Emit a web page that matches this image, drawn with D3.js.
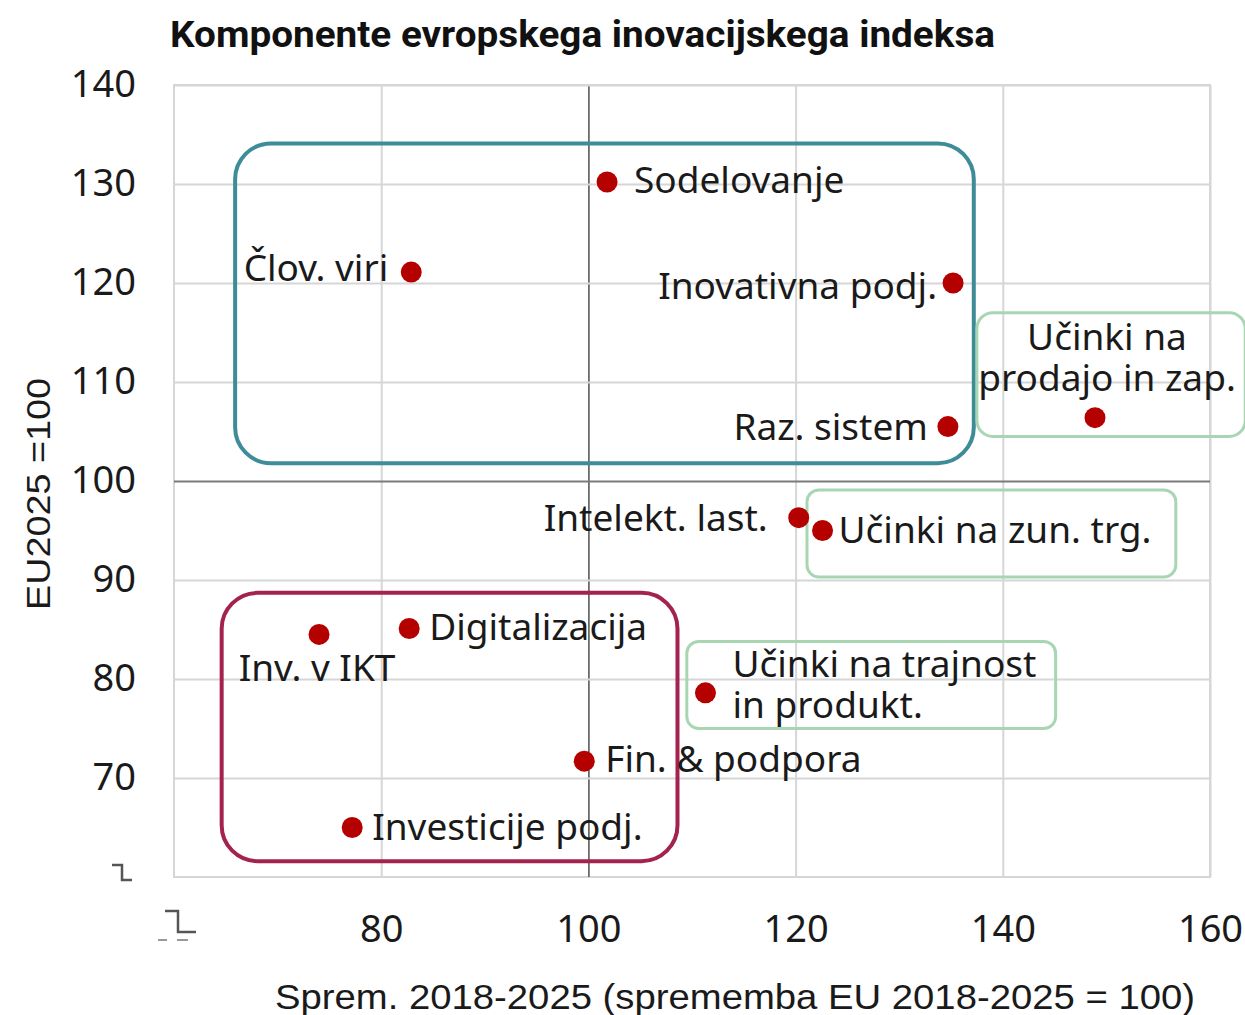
<!DOCTYPE html>
<html>
<head>
  <meta charset="utf-8">
  <title>Komponente evropskega inovacijskega indeksa</title>
  <script src="https://d3js.org/d3.v7.min.js"></script>
  <style>
    body { margin: 0; background: #fff; }
    svg { display: block; }
  </style>
</head>
<body>
  <svg width="1245" height="1015"></svg>
  <script>
    // components: change 2018-2025 (EU = 100) vs level EU2025 = 100
    const names = [
      "Sodelovanje", "Člov. viri", "Inovativna podj.", "Raz. sistem",
      "Učinki na prodajo in zap.", "Intelekt. last.", "Učinki na zun. trg.",
      "Digitalizacija", "Inv. v IKT", "Učinki na trajnost in produkt.",
      "Fin. & podpora", "Investicije podj."
    ];
    const change = [101.8, 82.9, 135.2, 134.7, 148.9, 120.3, 122.6, 82.7, 74.0, 111.3, 99.6, 77.2];
    const level = [130.2, 121.1, 120.0, 105.5, 106.4, 96.3, 95.0, 85.1, 84.5, 78.6, 71.7, 65.0];

    // group boxes in data units: [x0, x1, y0, y1]
    const groups = ["enablers", "firm", "imp1", "imp2", "imp3"];
    const groupBounds = [
      [65.9, 137.2, 101.8, 134.1],
      [64.6, 108.6, 61.6, 88.7],
      [137.5, 163.4, 104.5, 117.0],
      [121.1, 156.7, 90.3, 99.1],
      [109.5, 145.1, 75.0, 83.8]
    ];

    const xTicks = [80, 100, 120, 140, 160];
    const yTicks = [70, 80, 90, 100, 110, 120, 130, 140];

    const title = "Komponente evropskega inovacijskega indeksa";
    const xTitle = "Sprem. 2018-2025 (sprememba EU 2018-2025 = 100)";
    const yTitle = "EU2025 =100";

    // label layout (side, dx, dy from the dot, lines)
    const labelLayout = {
      "Sodelovanje": { anchor: "start", dx: 27, dy: -2 },
      "Člov. viri": { anchor: "end", dx: -23, dy: -4 },
      "Inovativna podj.": { anchor: "end", dx: -16, dy: 3 },
      "Raz. sistem": { anchor: "end", dx: -20, dy: 0 },
      "Učinki na prodajo in zap.": { anchor: "middle", dx: 12, dy: -81, lines: ["Učinki na", "prodajo in zap."] },
      "Intelekt. last.": { anchor: "end", dx: -31, dy: 0 },
      "Učinki na zun. trg.": { anchor: "start", dx: 16, dy: -1 },
      "Digitalizacija": { anchor: "start", dx: 20, dy: -2 },
      "Inv. v IKT": { anchor: "middle", dx: -2, dy: 33 },
      "Učinki na trajnost in produkt.": { anchor: "start", dx: 27, dy: -29, lines: ["Učinki na trajnost", "in produkt."] },
      "Fin. & podpora": { anchor: "start", dx: 21, dy: -2 },
      "Investicije podj.": { anchor: "start", dx: 20, dy: -1 }
    };
    const groupStyle = {
      enablers: { stroke: "#3f8c99", width: 4, r: 36 },
      firm: { stroke: "#a3224f", width: 4, r: 36 },
      imp1: { stroke: "#a9d6b2", width: 3, r: 16 },
      imp2: { stroke: "#a9d6b2", width: 3, r: 12 },
      imp3: { stroke: "#a9d6b2", width: 3, r: 12 }
    };

    const svg = d3.select("svg");
    const pL = 174, pR = 1210, pT = 85, pB = 877;
    const x = d3.scaleLinear().domain([60, 160]).range([pL, pR]);
    const y = d3.scaleLinear().domain([60, 140]).range([pB, pT]);

    const labelFont = "'Noto Sans', 'Open Sans', sans-serif";
    const fs = 37;
    const tickFs = 38;

    // frame
    svg.append("rect")
      .attr("x", pL).attr("y", pT)
      .attr("width", pR - pL).attr("height", pB - pT)
      .attr("fill", "none").attr("stroke", "#d6d6d6").attr("stroke-width", 2);

    // gridlines + tick labels via axes
    const gx = svg.append("g")
      .attr("transform", `translate(0,${pB})`)
      .call(d3.axisBottom(x).tickValues(xTicks).tickSize(-(pB - pT)).tickPadding(52).tickFormat(d3.format("d")));
    const gy = svg.append("g")
      .attr("transform", `translate(${pL},0)`)
      .call(d3.axisLeft(y).tickValues(yTicks).tickSize(-(pR - pL)).tickPadding(38).tickFormat(d3.format("d")));

    [gx, gy].forEach(g => {
      g.select(".domain").remove();
      g.selectAll(".tick line").attr("stroke", "#d6d6d6").attr("stroke-width", 2);
      g.selectAll(".tick text")
        .attr("fill", "#1a1a1a")
        .style("font-family", labelFont)
        .style("font-size", tickFs + "px");
    });
    gx.selectAll(".tick text").attr("dy", "0.35em");
    gy.selectAll(".tick text").attr("dy", "0.3em");

    // reference lines at 100
    gx.selectAll(".tick line").filter(d => d === 100).attr("stroke", "#5a5a5a").attr("stroke-width", 1.6);
    gy.selectAll(".tick line").filter(d => d === 100).attr("stroke", "#7a7a7a").attr("stroke-width", 2);

    // axis breaks
    svg.append("path")
      .attr("d", "M112,865 H122 V880 H132")
      .attr("fill", "none").attr("stroke", "#555").attr("stroke-width", 2.5);
    svg.append("path")
      .attr("d", "M165,911 H178 V932 H196")
      .attr("fill", "none").attr("stroke", "#555").attr("stroke-width", 2.5);
    svg.append("path")
      .attr("d", "M158,940 H167 M177,940 H188")
      .attr("fill", "none").attr("stroke", "#999").attr("stroke-width", 2);

    // group boxes
    svg.append("g").selectAll("rect")
      .data(groups)
      .join("rect")
      .attr("x", (d, i) => x(groupBounds[i][0]))
      .attr("y", (d, i) => y(groupBounds[i][3]))
      .attr("width", (d, i) => x(groupBounds[i][1]) - x(groupBounds[i][0]))
      .attr("height", (d, i) => y(groupBounds[i][2]) - y(groupBounds[i][3]))
      .attr("rx", d => groupStyle[d].r)
      .attr("fill", "none")
      .attr("stroke", d => groupStyle[d].stroke)
      .attr("stroke-width", d => groupStyle[d].width);

    // points
    svg.append("g").selectAll("circle")
      .data(names)
      .join("circle")
      .attr("cx", (d, i) => x(change[i]))
      .attr("cy", (d, i) => y(level[i]))
      .attr("r", 10.5)
      .attr("fill", "#b50000");

    // labels
    const lineH = 41;
    const labels = svg.append("g")
      .style("font-family", labelFont)
      .style("font-size", fs + "px")
      .attr("fill", "#1a1a1a");
    names.forEach((n, i) => {
      const L = labelLayout[n];
      const lines = L.lines || [n];
      const t = labels.append("text")
        .attr("text-anchor", L.anchor)
        .attr("x", x(change[i]) + L.dx)
        .attr("y", y(level[i]) + L.dy);
      lines.forEach((s, k) => {
        t.append("tspan")
          .attr("x", x(change[i]) + L.dx)
          .attr("dy", k === 0 ? "0.36em" : lineH)
          .text(s);
      });
    });

    // titles
    svg.append("text")
      .attr("x", 170).attr("y", 47)
      .attr("textLength", 825)
      .attr("lengthAdjust", "spacingAndGlyphs")
      .style("font-family", "'Liberation Sans Narrow', 'Roboto', sans-serif")
      .style("font-weight", "bold")
      .style("font-size", "37px")
      .attr("fill", "#111")
      .text(title);

    svg.append("text")
      .attr("x", 735).attr("y", 1009)
      .attr("text-anchor", "middle")
      .attr("textLength", 920)
      .attr("lengthAdjust", "spacingAndGlyphs")
      .style("font-family", "'Liberation Sans', Arial, sans-serif")
      .style("font-size", "35px")
      .attr("fill", "#1a1a1a")
      .text(xTitle);

    svg.append("text")
      .attr("transform", "translate(50,494) rotate(-90)")
      .attr("text-anchor", "middle")
      .attr("textLength", 232)
      .attr("lengthAdjust", "spacingAndGlyphs")
      .style("font-family", "'Liberation Sans', Arial, sans-serif")
      .style("font-size", "33px")
      .attr("fill", "#1a1a1a")
      .text(yTitle);
  </script>
</body>
</html>
